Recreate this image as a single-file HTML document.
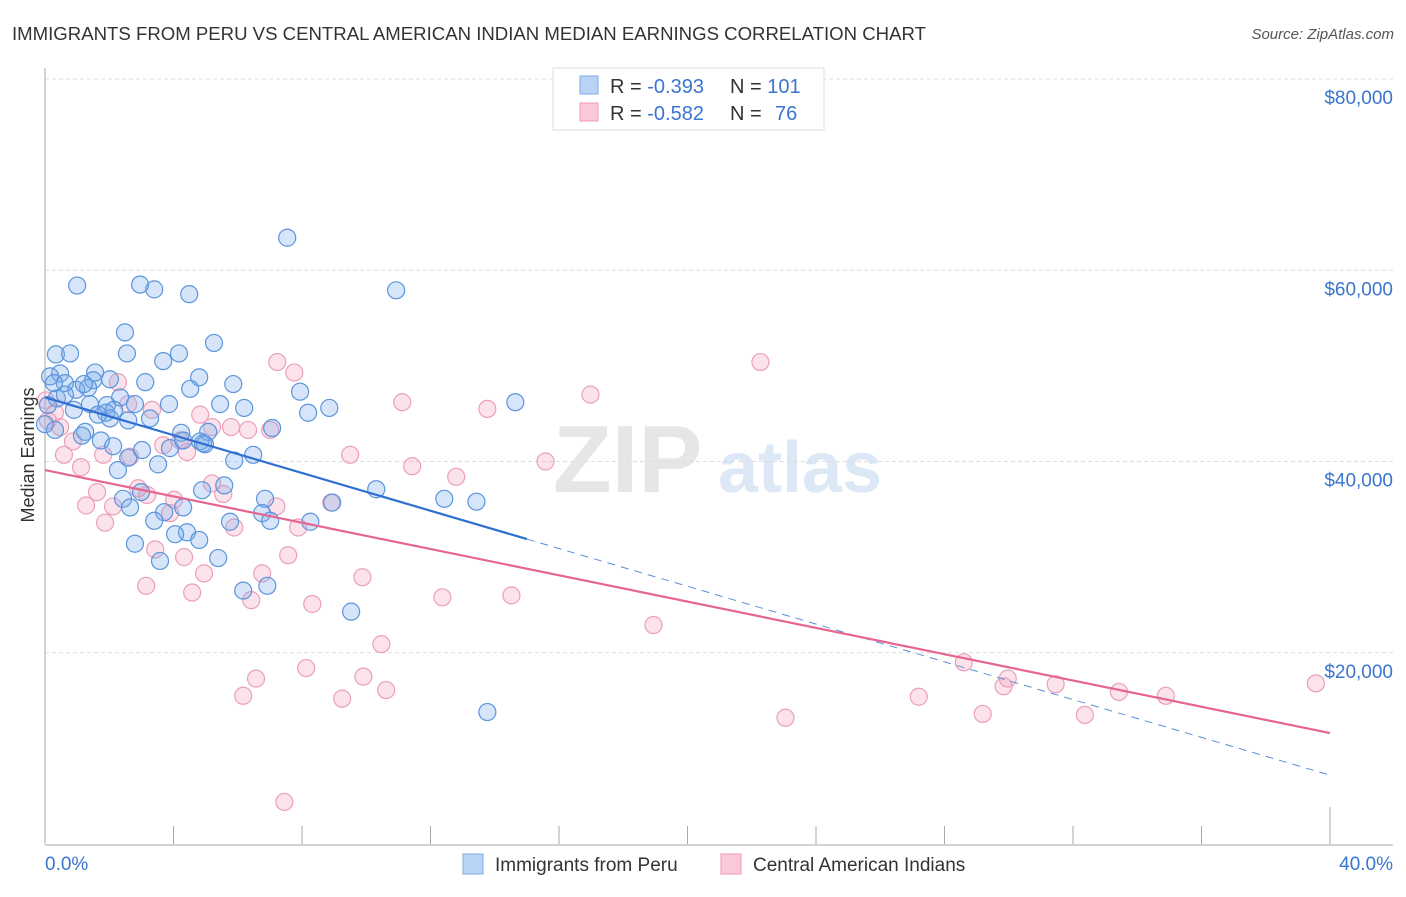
<!DOCTYPE html>
<html><head><meta charset="utf-8">
<style>
body{margin:0;background:#fff;font-family:"Liberation Sans",sans-serif;}
svg text{font-family:"Liberation Sans",sans-serif;}
</style></head>
<body>
<svg id="chart" width="1406" height="892" xmlns="http://www.w3.org/2000/svg">
<text x="12" y="40" font-size="18.6" fill="#333">IMMIGRANTS FROM PERU VS CENTRAL AMERICAN INDIAN MEDIAN EARNINGS CORRELATION CHART</text>
<text x="1394" y="39" font-size="15" fill="#555" font-style="italic" text-anchor="end">Source: ZipAtlas.com</text>
<g>
<text x="553" y="492" font-size="96" font-family="Liberation Serif" fill="#e6e6e6" font-weight="bold">ZIP</text>
<text x="718" y="492" font-size="72" fill="#dce8f6" font-weight="bold">atlas</text>
</g>
<g id="grid"></g>
<g id="axes"></g>
<g id="pink"></g>
<g id="blue"></g>
<g id="trends"></g>
<text transform="translate(34,455) rotate(-90)" font-size="18" fill="#333" text-anchor="middle">Median Earnings</text>
<g>
<rect x="553" y="68" width="271" height="62" fill="#fff" stroke="#ddd"/>
<rect x="580" y="76" width="18" height="18" fill="#b8d3f5" stroke="#7faee6"/>
<rect x="580" y="103" width="18" height="18" fill="#f9c9d8" stroke="#ee9ab6"/>
<text x="610" y="93" font-size="20" fill="#333">R = <tspan fill="#3a75cf">-0.393</tspan></text>
<text x="730" y="93" font-size="20" fill="#333">N = <tspan fill="#3a75cf">101</tspan></text>
<text x="610" y="120" font-size="20" fill="#333">R = <tspan fill="#3a75cf">-0.582</tspan></text>
<text x="730" y="120" font-size="20" fill="#333">N = </text>
<text x="775" y="120" font-size="20" fill="#3a75cf">76</text>
</g>
<g>
<rect x="463" y="854" width="20" height="20" fill="#b8d3f5" stroke="#7faee6"/>
<text x="495" y="871" font-size="19" fill="#333">Immigrants from Peru</text>
<rect x="721" y="854" width="20" height="20" fill="#f9c9d8" stroke="#ee9ab6"/>
<text x="753" y="871" font-size="19" fill="#333">Central American Indians</text>
</g>
</svg>
<script>
const yTicks=[20000,40000,60000,80000];
const yTickLabels=["$20,000","$40,000","$60,000","$80,000"];
const xTickLabels=["0.0%","40.0%"];
const peruX=[1.0,2.96,3.4,4.49,7.54,10.93,2.49,0.34,0.78,2.55,4.17,5.26,3.68,0.47,0.16,1.56,0.62,1.5,3.12,1.34,0.97,4.8,5.86,7.94,4.52,0.37,2.34,1.93,2.8,3.86,5.45,6.2,8.85,14.64,0.9,1.4,1.9,2.59,3.27,2.02,0,0.31,1.25,1.74,4.24,5.08,7.07,8.19,2.12,3.02,4.83,6.48,5.89,3.52,2.27,4.98,10.31,12.43,13.43,6.85,2.99,2.43,2.65,4.3,3.71,5.76,3.4,6.76,7.01,8.26,8.94,4.89,5.58,4.42,4.8,2.8,3.58,5.39,6.17,6.92,9.53,13.77,4.05,1.15,0.62,1.65,2.15,3.89,2.02,1.21,0.09,0.28,2.59,4.3,4.92];
const peruY=[58.4,58.5,58.0,57.5,63.4,57.9,53.5,51.2,51.3,51.3,51.3,52.4,50.5,49.2,48.9,49.3,48.2,48.5,48.3,47.7,47.5,48.8,48.1,47.3,47.6,46.6,46.7,45.9,46.0,46.0,46.0,45.6,45.6,46.2,45.4,46.0,45.1,44.3,44.5,44.5,43.9,43.3,43.1,42.2,43.0,43.1,43.5,45.1,41.6,41.2,42.1,40.7,40.1,39.7,39.1,41.8,37.1,36.1,35.8,36.1,36.8,36.1,35.2,35.2,34.7,33.7,33.8,34.6,33.8,33.7,35.7,37.0,37.5,32.6,31.8,31.4,29.6,29.9,26.5,27.0,24.3,13.8,32.4,42.7,47.0,44.9,45.4,41.4,48.6,48.1,45.9,48.2,40.4,42.2,41.9];
const indX=[7.23,22.27,7.76,2.27,11.12,16.98,13.77,2.59,3.33,4.83,0.31,0.09,0.47,5.2,6.32,7.01,4.21,3.68,0.87,1.81,0.59,2.65,4.42,9.5,11.43,12.8,15.58,1.12,5.2,1.62,2.9,5.55,4.02,2.12,1.28,7.2,8.91,3.89,5.89,1.87,7.88,7.57,3.43,4.33,6.76,4.95,3.15,4.58,9.88,6.42,8.32,12.37,14.52,18.94,10.47,8.13,9.91,6.57,6.17,9.25,10.62,28.6,29.97,29.84,31.46,27.2,33.43,34.89,39.56,29.19,32.37,23.05,7.45,3.18,5.79,0.03];
const indY=[50.4,50.4,49.3,48.3,46.2,47.0,45.5,46.0,45.4,44.9,45.1,44.3,43.6,43.6,43.3,43.3,42.2,41.7,42.1,40.7,40.7,40.5,41.0,40.7,39.5,38.4,40.0,39.4,37.7,36.8,37.2,36.6,36.0,35.3,35.4,35.3,35.7,34.6,33.1,33.6,33.1,30.2,30.8,30.0,28.3,28.3,27.0,26.3,27.9,25.5,25.1,25.8,26.0,22.9,20.9,18.4,17.5,17.3,15.5,15.2,16.1,19.0,17.3,16.5,16.7,15.4,15.9,15.5,16.8,13.6,13.5,13.2,4.4,36.5,43.6,46.4];
const peruTrend=[46.7,7.2], peruSolidEnd=15.0;
const indTrend=[39.1,11.6];

const NS="http://www.w3.org/2000/svg";
const X0=45,X1=1330,Y0=844,PX=(Y0-79)/80;
const sx=v=>X0+(v/40)*(X1-X0);
const sy=k=>Y0-k*PX;
function mk(tag,attrs,parent){const e=document.createElementNS(NS,tag);for(const k in attrs)e.setAttribute(k,attrs[k]);parent.appendChild(e);return e;}
const grid=document.getElementById('grid'),axes=document.getElementById('axes');
yTicks.forEach((t,i)=>{
  const y=sy(t/1000);
  const l=mk('line',{x1:X0,x2:1393,y1:y,y2:y,stroke:'#ddd','stroke-dasharray':'4,3'},grid);
  
  
  const tx=mk('text',{x:1393,y:y+25,'font-size':19,fill:'#3a75cf','text-anchor':'end'},axes);
  tx.textContent=yTickLabels[i];
  
  
});
mk('line',{x1:X0,x2:X0,y1:68,y2:Y0,stroke:'#aaa'},axes);
mk('line',{x1:X0,x2:1393,y1:Y0+1,y2:Y0+1,stroke:'#aaa'},axes);
for(let i=0;i<=10;i++){const x=sx(i*4);mk('line',{x1:x,x2:x,y1:i==10?807:826,y2:Y0,stroke:'#aaa'},axes);}
const xl=mk('text',{x:45,y:870,'font-size':19,fill:'#3a75cf'},axes);xl.textContent=xTickLabels[0];


const xr=mk('text',{x:1393,y:870,'font-size':19,fill:'#3a75cf','text-anchor':'end'},axes);xr.textContent=xTickLabels[1];


function dots(xs,ys,g,fill,stroke,name){xs.forEach((v,i)=>{const c=mk('circle',{cx:sx(v),cy:sy(ys[i]),r:8.5,fill:fill,stroke:stroke,'stroke-width':1.2},g);
  
  });}
dots(indX,indY,document.getElementById('pink'),'rgba(244,160,188,0.3)','#eaa0ba','central-american-indian-point');
dots(peruX,peruY,document.getElementById('blue'),'rgba(120,170,235,0.3)','#5b95db','peru-point');
const tr=document.getElementById('trends');
const py=x=>peruTrend[0]+(peruTrend[1]-peruTrend[0])*x/40;
const l1=mk('line',{x1:sx(0),y1:sy(py(0)),x2:sx(peruSolidEnd),y2:sy(py(peruSolidEnd)),stroke:'#2f6fd0','stroke-width':2.2},tr);


const l2=mk('line',{x1:sx(peruSolidEnd),y1:sy(py(peruSolidEnd)),x2:sx(40),y2:sy(py(40)),stroke:'#5b8fd8','stroke-width':1,'stroke-dasharray':'8,6'},tr);


const l3=mk('line',{x1:sx(0),y1:sy(indTrend[0]),x2:sx(40),y2:sy(indTrend[1]),stroke:'#e5668f','stroke-width':2.2},tr);


</script>
</body></html>
